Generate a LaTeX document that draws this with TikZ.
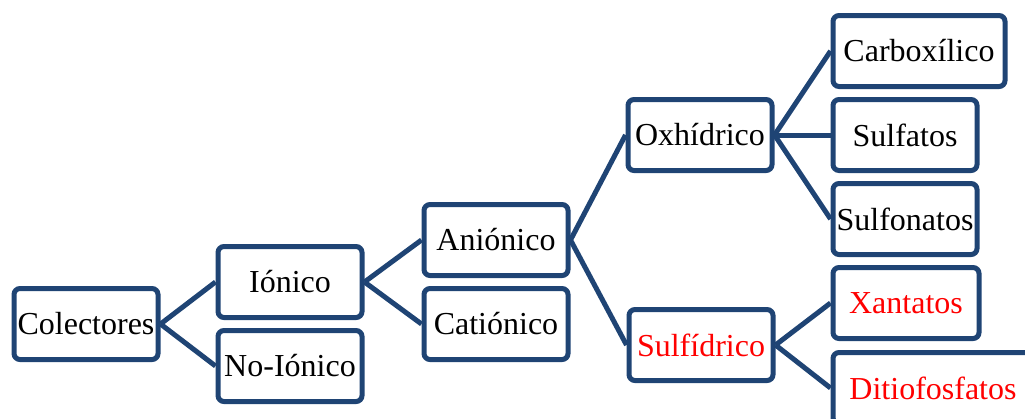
\documentclass[tikz,border=0pt]{standalone}
\usepackage{fontspec}
\setmainfont{Liberation Serif}
\definecolor{azul}{RGB}{31,68,116}
\begin{document}
\begin{tikzpicture}[x=1pt,y=-1pt,
    caja/.style={draw=azul,line width=5pt,rounded corners=6pt,minimum width=144pt,
      minimum height=71pt,inner sep=0pt,font=\fontsize{32}{38}\selectfont},
    rama/.style={draw=azul,line width=5pt}]
    \useasboundingbox (0,0) rectangle (1025,418);
    \clip (0,0) rectangle (1025,418);

    % Primer nivel
    \node[caja] (col) at (86,324) {Colectores};
    \node[caja] (ion) at (290,282) {Iónico};
    \node[caja] (noion) at (290,366) {No-Iónico};

    % Ionicos
    \node[caja] (anion) at (496,240) {Aniónico};
    \node[caja] (cation) at (496,324) {Catiónico};

    % Anionicos
    \node[caja] (oxh) at (700,135) {Oxhídrico};
    \node[caja,text=red] (sulf) at (701,345) {Sulfídrico};

    % Oxhidricos
    \node[caja,minimum width=172pt] (carb) at (919,51) {Carboxílico};
    \node[caja] (sfat) at (905,135) {Sulfatos};
    \node[caja] (sfon) at (905,219) {Sulfonatos};

    % Sulfidricos
    \node[caja,minimum width=146pt,text=red] (xan) at (906,303) {Xantatos};
    \node[caja,minimum width=200pt,text=red] (ditio) at (933,388) {Ditiofosfatos};

    % Ramas
    \draw[rama] (col.east) -- (ion.west);
    \draw[rama] (col.east) -- (noion.west);
    \draw[rama] (ion.east) -- (anion.west);
    \draw[rama] (ion.east) -- (cation.west);
    \draw[rama] (anion.east) -- (oxh.west);
    \draw[rama] (anion.east) -- (sulf.west);
    \draw[rama] (oxh.east) -- (carb.west);
    \draw[rama] (oxh.east) -- (sfat.west);
    \draw[rama] (oxh.east) -- (sfon.west);
    \draw[rama] (sulf.east) -- (xan.west);
    \draw[rama] (sulf.east) -- (ditio.west);
\end{tikzpicture}
\end{document}
